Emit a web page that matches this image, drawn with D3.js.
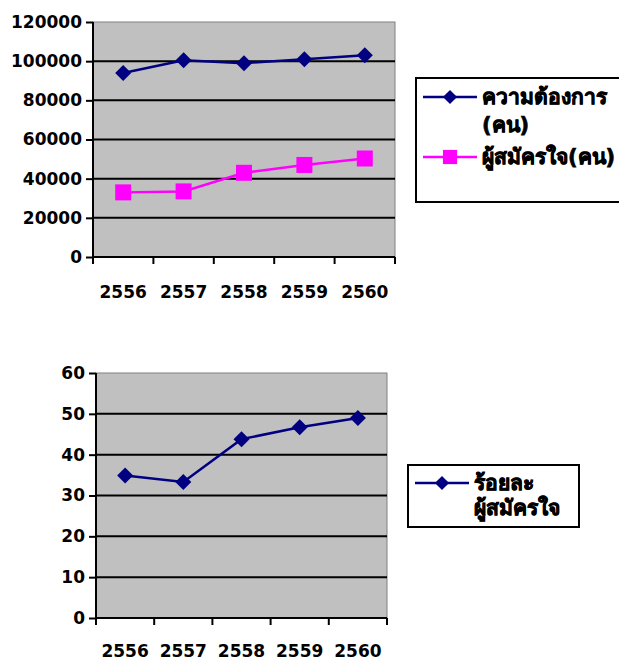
<!DOCTYPE html>
<meta charset="UTF-8">
<style>
  body { margin: 0; background: #fff; }
  text { font-family: "DejaVu Sans", sans-serif; font-weight: bold; fill: #000; }
  .grid line { stroke: #000; stroke-width: 2px; }
  .legend rect { fill: #fff; stroke: #000; stroke-width: 2px; }
  .legend text { stroke: #000; stroke-width: 0.7px; }
</style>
<body>
<script src="https://d3js.org/d3.v7.min.js"></script>
<script>

// data
var years = ["2556", "2557", "2558", "2559", "2560"];
var demand = [94000, 100500, 99000, 101000, 103000];     // ความต้องการ (คน)
var applicants = [33000, 33500, 43000, 47000, 50300];    // ผู้สมัครใจ (คน)
var percent = [34.9, 33.3, 43.8, 46.7, 49.0];            // ร้อยละผู้สมัครใจ
var topTicks = [0, 20000, 40000, 60000, 80000, 100000, 120000];
var bottomTicks = [0, 10, 20, 30, 40, 50, 60];

// Excel style diamond marker (wider than d3's thin diamond)
var diamond = {
  draw: function(ctx, size) {
    var r = Math.sqrt(size) / 2;
    ctx.moveTo(0, -r); ctx.lineTo(r, 0); ctx.lineTo(0, r); ctx.lineTo(-r, 0); ctx.closePath();
  }
};

var svg = d3.select("body").append("svg")
    .attr("width", 619)
    .attr("height", 662);

// draws one panel: gray plot area, grid, axes, lines
function panel(box, yMax, ticks, series, labelGap) {
  var x = d3.scaleBand().domain(years).range([box.left, box.right]);
  var y = d3.scaleLinear().domain([0, yMax]).range([box.bottom, box.top]);

  var g = svg.append("g");

  g.append("rect")
      .attr("x", box.left).attr("y", box.top)
      .attr("width", box.right - box.left)
      .attr("height", box.bottom - box.top)
      .style("fill", "#c0c0c0")
      .style("stroke", "#808080")
      .style("stroke-width", 1);

  // horizontal grid
  g.append("g").attr("class", "grid")
    .selectAll("line").data(ticks.slice(1, -1)).enter().append("line")
      .attr("x1", box.left).attr("x2", box.right)
      .attr("y1", function(d) { return y(d); })
      .attr("y2", function(d) { return y(d); });

  // y axis
  var yAxis = g.append("g")
      .attr("transform", "translate(" + box.left + ",0)")
      .call(d3.axisLeft(y).tickValues(ticks).tickSize(7).tickPadding(4).tickFormat(d3.format("d")));
  yAxis.select(".domain").style("stroke", "#000").style("stroke-width", 2)
      .attr("d", "M0," + box.bottom + "V" + box.top);
  yAxis.selectAll(".tick line").style("stroke", "#000").style("stroke-width", 2);
  yAxis.selectAll(".tick text").style("font-size", "17px").style("fill", "#000")
      .style("font-family", '"DejaVu Sans", sans-serif').style("font-weight", "bold");

  // x axis: ticks at category boundaries
  var xg = g.append("g");
  xg.append("line")
      .attr("x1", box.left).attr("x2", box.right)
      .attr("y1", box.bottom).attr("y2", box.bottom)
      .style("stroke", "#000").style("stroke-width", 2);
  var edges = years.map(function(d) { return x(d); }).concat([box.right]);
  xg.selectAll("line.tk").data(edges).enter().append("line")
      .attr("class", "tk")
      .attr("x1", function(d) { return d; }).attr("x2", function(d) { return d; })
      .attr("y1", box.bottom).attr("y2", box.bottom + 7)
      .style("stroke", "#000").style("stroke-width", 2);
  xg.selectAll("text").data(years).enter().append("text")
      .attr("x", function(d) { return x(d) + x.bandwidth() / 2; })
      .attr("y", box.bottom + labelGap)
      .attr("text-anchor", "middle")
      .style("font-size", "17px")
      .text(function(d) { return d; });

  var line = d3.line()
      .x(function(d, i) { return x(years[i]) + x.bandwidth() / 2; })
      .y(function(d) { return y(d); });

  series.forEach(function(s) {
    g.append("path")
        .datum(s.values)
        .attr("d", line)
        .style("fill", "none")
        .style("stroke", s.color)
        .style("stroke-width", 2.5);
    g.selectAll(null).data(s.values).enter().append("path")
        .attr("transform", function(d, i) {
          return "translate(" + (x(years[i]) + x.bandwidth() / 2) + "," + y(d) + ")";
        })
        .attr("d", d3.symbol().type(s.symbol).size(s.size))
        .style("fill", s.color);
  });
}

function legend(box, items, lineGap) {
  var g = svg.append("g").attr("class", "legend");
  g.append("rect")
      .attr("x", box.x).attr("y", box.y)
      .attr("width", box.w).attr("height", box.h);
  items.forEach(function(it) {
    g.append("line")
        .attr("x1", box.x + 7).attr("x2", box.x + 61)
        .attr("y1", it.y).attr("y2", it.y)
        .style("stroke", it.color).style("stroke-width", 2.5);
    g.append("path")
        .attr("transform", "translate(" + (box.x + 34) + "," + it.y + ")")
        .attr("d", d3.symbol().type(it.symbol).size(it.size))
        .style("fill", it.color);
    it.lines.forEach(function(t, k) {
      g.append("text")
          .attr("x", box.x + 66)
          .attr("y", it.y + 7 + k * lineGap)
          .style("font-size", "21px")
          .text(t);
    });
  });
}

panel({left: 93, right: 395, top: 22, bottom: 257}, 120000, topTicks, [
  {values: demand, color: "#000080", symbol: diamond, size: 256},
  {values: applicants, color: "#ff00ff", symbol: d3.symbolSquare, size: 256}
], 41);

panel({left: 96, right: 387, top: 373, bottom: 618}, 60, bottomTicks, [
  {values: percent, color: "#000080", symbol: diamond, size: 256}
], 39);

legend({x: 416, y: 78, w: 210, h: 124}, [
  {y: 97, color: "#000080", symbol: diamond, size: 200, lines: ["ความต้องการ", "(คน)"]},
  {y: 157, color: "#ff00ff", symbol: d3.symbolSquare, size: 200, lines: ["ผู้สมัครใจ(คน)"]}
], 28);
legend({x: 408, y: 465, w: 171, h: 62}, [
  {y: 483, color: "#000080", symbol: diamond, size: 200, lines: ["ร้อยละ", "ผู้สมัครใจ"]}
], 25);

</script>
</body>
